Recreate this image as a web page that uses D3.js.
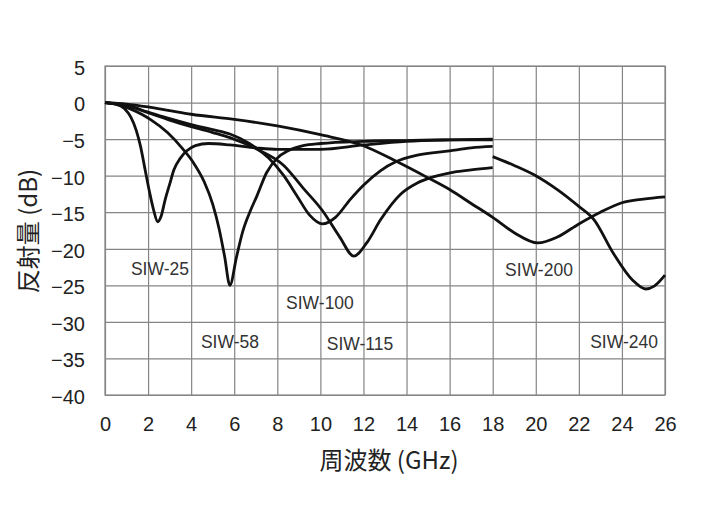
<!DOCTYPE html>
<html>
<head>
<meta charset="utf-8">
<script src="https://cdn.jsdelivr.net/npm/d3@7"></script>
<style>
  body { margin: 0; background: #fff; }
  text { font-family: "Liberation Sans", Arial, "Noto Sans CJK JP", sans-serif; }
</style>
</head>
<body>
<script>
// tick values
var xTicks = [0, 2, 4, 6, 8, 10, 12, 14, 16, 18, 20, 22, 24, 26]
var yTicks = [5, 0, -5, -10, -15, -20, -25, -30, -35, -40]

// curves: [GHz, dB]
var siw25 = [[0, 0], [0.5, -0.2], [0.9, -0.8], [1.2, -2.0], [1.45, -3.8], [1.65, -6], [1.85, -9], [2.05, -12], [2.25, -14.6], [2.45, -16.3],
  [2.6, -15.6], [2.8, -13.2], [3.0, -11.2], [3.2, -9.2], [3.5, -7.6], [3.8, -6.6], [4.2, -5.9], [4.8, -5.6], [5.8, -5.8], [7, -6.2],
  [8, -6.4], [10, -6.4], [12, -5.8], [14, -5.3], [16, -5.1], [18, -5.0]]
var siw58 = [[0, 0], [0.6, -0.3], [1.2, -0.9], [1.7, -1.6], [2.1, -2.3], [2.9, -4.1], [3.6, -6.3], [4.1, -8.2], [4.6, -10.8], [5.0, -13.9],
  [5.3, -17.3], [5.55, -21], [5.8, -25], [6.1, -21.2], [6.4, -17.6], [6.75, -14.8], [7.05, -12.8], [7.5, -9.6], [8.0, -7.6], [8.5, -6.6],
  [9.2, -5.9], [10, -5.6], [12, -5.3], [14, -5.2], [16, -5.1], [18, -5.1]]
var siw100 = [[0, 0], [1, -0.4], [2, -1.3], [3, -2.2], [4, -3.0], [5, -3.7], [5.8, -4.3], [6.7, -5.6], [7.6, -7.6], [8.3, -10.0],
  [8.9, -12.7], [9.5, -15.4], [10.1, -16.6], [10.7, -15.7], [11.4, -13.2], [12, -11.3], [12.8, -9.3], [13.5, -8.1], [14.5, -7.2], [16, -6.6],
  [17, -6.2], [18, -6.0]]
var siw115 = [[0, 0], [1, -0.4], [2, -1.4], [3, -2.4], [4, -3.3], [5, -4.1], [5.8, -4.8], [7, -6.3], [8.3, -8.6], [9.2, -11.7],
  [10.1, -14.8], [10.9, -18.4], [11.55, -21], [12.15, -19.2], [12.8, -16.0], [13.7, -12.6], [14.5, -11.0], [15.2, -10.2], [16.2, -9.5], [17, -9.2],
  [18, -8.9]]
var siw200 = [[0, 0], [1, -0.2], [2, -0.6], [3, -1.1], [4, -1.6], [6, -2.3], [8, -3.2], [10, -4.4], [12, -5.9], [13.5, -8.0],
  [15, -10.3], [16, -11.9], [17, -13.8], [18, -15.7], [19, -17.8], [20.1, -19.2], [21, -18.4], [22, -16.6], [23, -15.0], [24, -13.7],
  [25, -13.2], [26, -12.9]]
var siw240 = [[18, -7.4], [19, -8.6], [20, -10.0], [21, -11.9], [22, -14.2], [22.7, -16.0], [23.6, -20.6], [24.5, -24.3], [25.1, -25.5], [25.5, -25.1],
  [26, -23.6]]

var seriesNames = ['SIW-25', 'SIW-58', 'SIW-100', 'SIW-115', 'SIW-200', 'SIW-240']
var seriesData = [siw25, siw58, siw100, siw115, siw200, siw240]
// where each name sits, in chart units [GHz, dB]
var labelAt = [[2.55, -22.8], [5.8, -32.7], [9.98, -27.4], [11.84, -33.0], [20.15, -22.9], [24.1, -32.7]]

var width = 702
var height = 506
var margin = { left: 105, top: 66, right: 37, bottom: 111 }
var innerWidth = width - margin.left - margin.right
var innerHeight = height - margin.top - margin.bottom

var svg = d3.select('body').append('svg').attr('width', width).attr('height', height)
var g = svg.append('g').attr('transform', `translate(${margin.left},${margin.top})`)

var xScale = d3.scaleLinear().domain([0, 26]).range([0, innerWidth])
var yScale = d3.scaleLinear().domain([-40, 5]).range([innerHeight, 0])

// grid + tick labels
var xAxis = d3.axisBottom(xScale).tickValues(xTicks).tickSize(-innerHeight).tickPadding(21).tickFormat(d3.format('d'))
var yAxis = d3.axisLeft(yScale).tickValues(yTicks).tickSize(-innerWidth).tickPadding(20).tickFormat(d => d < 0 ? '\u2212' + (-d) : d)

var gx = g.append('g').attr('transform', `translate(0,${innerHeight})`).call(xAxis)
var gy = g.append('g').call(yAxis)
gx.select('.domain').remove()
gy.select('.domain').remove()
svg.selectAll('.tick line').attr('stroke', '#858585').attr('stroke-width', 1.2)
svg.selectAll('.tick text').attr('font-size', 20).attr('fill', '#222')
gx.selectAll('.tick text').attr('dy', '0.75em')
gy.selectAll('.tick text').attr('dy', '0.42em')
g.append('rect').attr('width', innerWidth).attr('height', innerHeight).attr('fill', 'none').attr('stroke', '#858585').attr('stroke-width', 1.2)

var line = d3.line().x(d => xScale(d[0])).y(d => yScale(d[1])).curve(d3.curveMonotoneX)

g.append('g').selectAll('path').data(seriesData).enter().append('path')
  .attr('d', line).attr('fill', 'none').attr('stroke', '#111').attr('stroke-width', 2.8).attr('stroke-linejoin', 'round')

g.append('g').selectAll('text').data(seriesNames).enter().append('text')
  .text(d => d)
  .attr('x', (d, i) => xScale(labelAt[i][0]))
  .attr('y', (d, i) => yScale(labelAt[i][1]))
  .attr('text-anchor', 'middle').attr('dominant-baseline', 'central')
  .attr('font-size', 17.5).attr('fill', '#333')

// axis titles
svg.append('text').text('周波数 (GHz)').attr('x', 389).attr('y', 458)
  .attr('text-anchor', 'middle').attr('dominant-baseline', 'central')
  .attr('font-size', 24).attr('fill', '#222').style('font-family', '"Noto Sans CJK JP", sans-serif')
svg.append('text').text('反射量 (dB)').attr('transform', 'translate(26,231) rotate(-90)')
  .attr('text-anchor', 'middle').attr('dominant-baseline', 'central')
  .attr('font-size', 24).attr('fill', '#222').style('font-family', '"Noto Sans CJK JP", sans-serif')
</script>
</body>
</html>
